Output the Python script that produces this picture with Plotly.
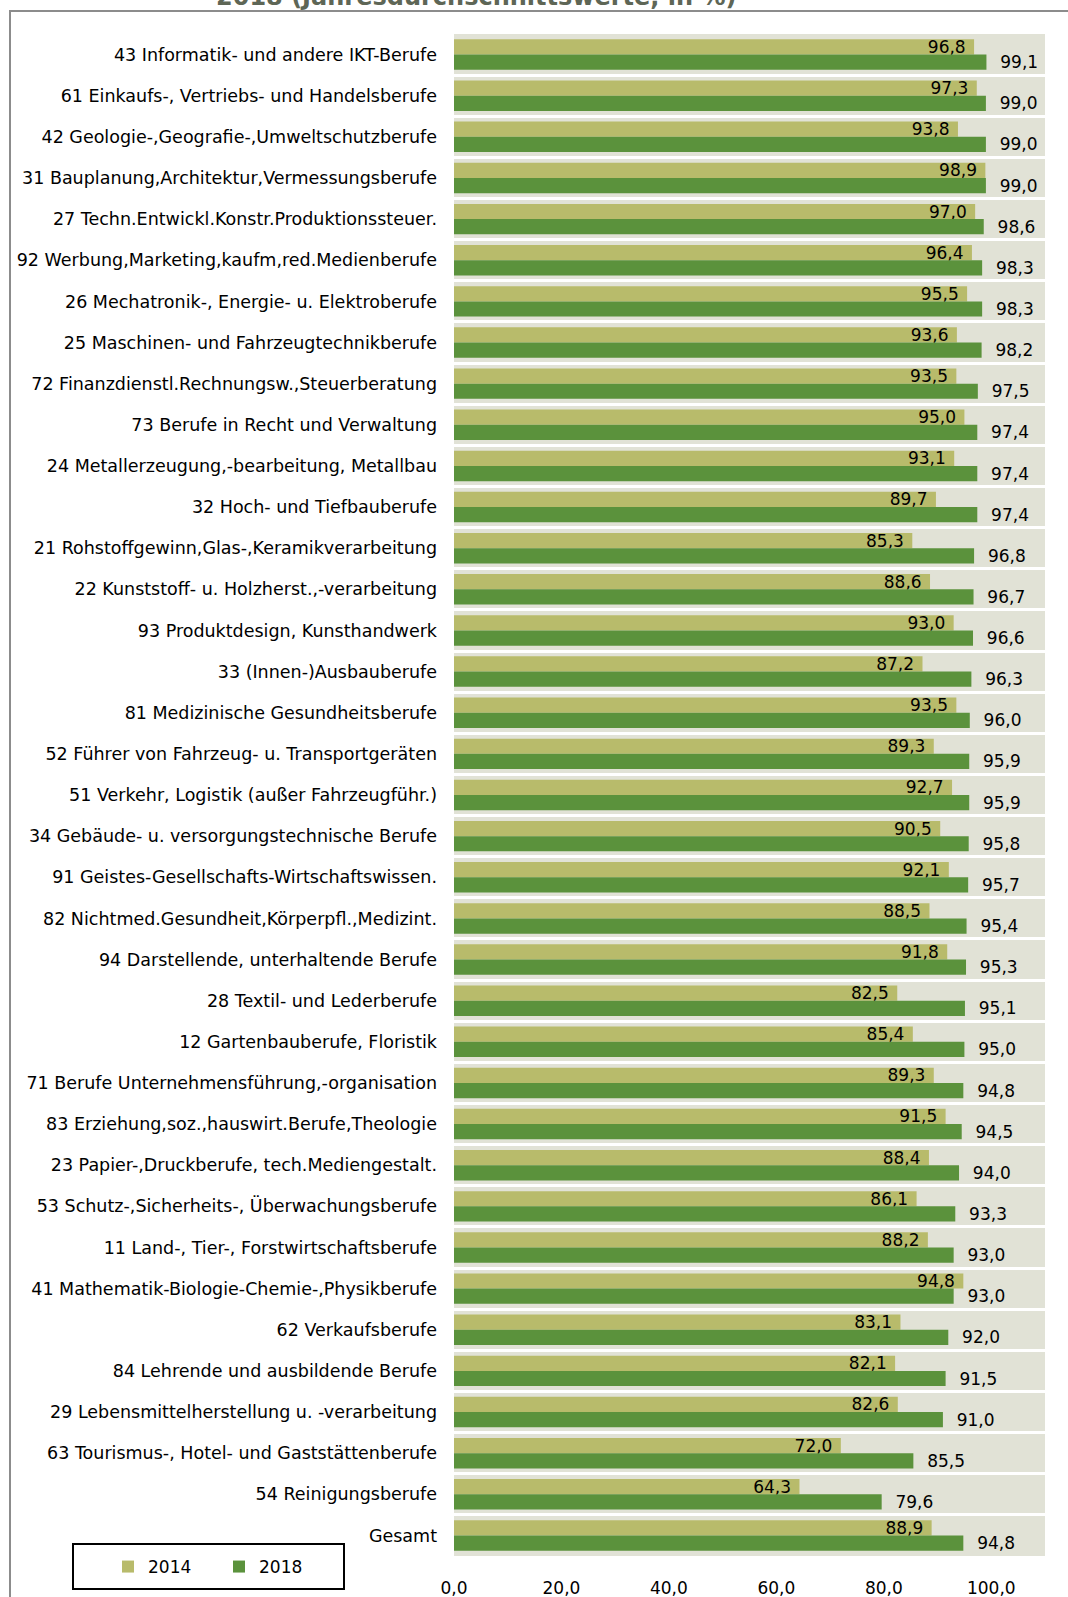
import plotly.graph_objects as go

categories = [
    "43 Informatik- und andere IKT-Berufe",
    "61 Einkaufs-, Vertriebs- und Handelsberufe",
    "42 Geologie-,Geografie-,Umweltschutzberufe",
    "31 Bauplanung,Architektur,Vermessungsberufe",
    "27 Techn.Entwickl.Konstr.Produktionssteuer.",
    "92 Werbung,Marketing,kaufm,red.Medienberufe",
    "26 Mechatronik-, Energie- u. Elektroberufe",
    "25 Maschinen- und Fahrzeugtechnikberufe",
    "72 Finanzdienstl.Rechnungsw.,Steuerberatung",
    "73 Berufe in Recht und Verwaltung",
    "24 Metallerzeugung,-bearbeitung, Metallbau",
    "32 Hoch- und Tiefbauberufe",
    "21 Rohstoffgewinn,Glas-,Keramikverarbeitung",
    "22 Kunststoff- u. Holzherst.,-verarbeitung",
    "93 Produktdesign, Kunsthandwerk",
    "33 (Innen-)Ausbauberufe",
    "81 Medizinische Gesundheitsberufe",
    "52 Führer von Fahrzeug- u. Transportgeräten",
    "51 Verkehr, Logistik (außer Fahrzeugführ.)",
    "34 Gebäude- u. versorgungstechnische Berufe",
    "91 Geistes-Gesellschafts-Wirtschaftswissen.",
    "82 Nichtmed.Gesundheit,Körperpfl.,Medizint.",
    "94 Darstellende, unterhaltende Berufe",
    "28 Textil- und Lederberufe",
    "12 Gartenbauberufe, Floristik",
    "71 Berufe Unternehmensführung,-organisation",
    "83 Erziehung,soz.,hauswirt.Berufe,Theologie",
    "23 Papier-,Druckberufe, tech.Mediengestalt.",
    "53 Schutz-,Sicherheits-, Überwachungsberufe",
    "11 Land-, Tier-, Forstwirtschaftsberufe",
    "41 Mathematik-Biologie-Chemie-,Physikberufe",
    "62 Verkaufsberufe",
    "84 Lehrende und ausbildende Berufe",
    "29 Lebensmittelherstellung u. -verarbeitung",
    "63 Tourismus-, Hotel- und Gaststättenberufe",
    "54 Reinigungsberufe",
    "Gesamt",
]

values_2014 = [96.8, 97.3, 93.8, 98.9, 97.0, 96.4, 95.5, 93.6, 93.5, 95.0,
               93.1, 89.7, 85.3, 88.6, 93.0, 87.2, 93.5, 89.3, 92.7, 90.5,
               92.1, 88.5, 91.8, 82.5, 85.4, 89.3, 91.5, 88.4, 86.1, 88.2,
               94.8, 83.1, 82.1, 82.6, 72.0, 64.3, 88.9]

values_2018 = [99.1, 99.0, 99.0, 99.0, 98.6, 98.3, 98.3, 98.2, 97.5, 97.4,
               97.4, 97.4, 96.8, 96.7, 96.6, 96.3, 96.0, 95.9, 95.9, 95.8,
               95.7, 95.4, 95.3, 95.1, 95.0, 94.8, 94.5, 94.0, 93.3, 93.0,
               93.0, 92.0, 91.5, 91.0, 85.5, 79.6, 94.8]

x_ticks = [0, 20, 40, 60, 80, 100]
title_text = "2018 (Jahresdurchschnittswerte, in %)"

FONT = "DejaVu Sans, sans-serif"
C2014 = "#B8BB6B"
C2018 = "#5B923C"
BAND = "#E1E2D6"
NB = "\u00a0"

fig = go.Figure()
fig.add_trace(go.Bar(
    name="2014", y=categories, x=values_2014, orientation="h",
    marker=dict(color=C2014, line=dict(width=0)),
    texttemplate="%{x:.1f}" + NB, textposition="inside", insidetextanchor="end",
    textfont=dict(color="black", size=17, family=FONT),
    constraintext="none", cliponaxis=False,
))
fig.add_trace(go.Bar(
    name="2018", y=categories, x=values_2018, orientation="h",
    marker=dict(color=C2018, line=dict(width=0)),
    texttemplate=NB + NB + "%{x:.1f}", textposition="outside",
    textfont=dict(color="black", size=17, family=FONT),
    constraintext="none", cliponaxis=False,
))

W, H = 1068, 1597
ml, mr, mt, mb = 454, 23, 34, 41
pw, ph = W - ml - mr, H - mt - mb

def px_x(px):
    return (px - ml) / pw

def px_y(py):
    return (H - mb - py) / ph

fig.update_layout(
    width=W, height=H,
    margin=dict(l=ml, r=mr, t=mt, b=mb, autoexpand=False),
    paper_bgcolor="white", plot_bgcolor=BAND,
    separators=",.",
    barmode="group", bargap=0.26, bargroupgap=0,
    font=dict(family=FONT, size=17, color="black"),
    xaxis=dict(range=[0, 110], tickvals=x_ticks, tickformat=".1f",
               showgrid=False, zeroline=False, showline=False,
               ticklabelstandoff=20, tickfont=dict(size=17)),
    yaxis=dict(categoryorder="array", categoryarray=categories,
               autorange="reversed", tickson="boundaries", ticks="",
               showgrid=True, gridcolor="white", gridwidth=3,
               showline=False, zeroline=False, ticklabelstandoff=16,
               tickfont=dict(size=17.5)),
    showlegend=True,
    legend=dict(orientation="h", x=px_x(108), xanchor="left",
                y=px_y(1567), yanchor="middle", bgcolor="rgba(0,0,0,0)",
                borderwidth=0, entrywidth=66, font=dict(size=17)),
    shapes=[
        dict(type="rect", xref="paper", yref="paper",
             x0=px_x(10), x1=px_x(1080), y0=px_y(1610), y1=px_y(11),
             line=dict(color="#8C8C8C", width=2), fillcolor="rgba(0,0,0,0)",
             layer="below"),
        dict(type="rect", xref="paper", yref="paper",
             x0=px_x(73), x1=px_x(344), y0=px_y(1589), y1=px_y(1544),
             line=dict(color="black", width=2), fillcolor="rgba(0,0,0,0)"),
    ],
    annotations=[
        dict(text="<b>" + title_text + "</b>", xref="paper", yref="paper",
             x=px_x(476), y=px_y(13), xanchor="center", yanchor="bottom",
             showarrow=False, font=dict(size=24, color="#5E6656", family=FONT)),
    ],
)

fig.write_html("out.html", config={"displayModeBar": False},
               post_script="document.body.style.margin='0';document.body.style.padding='0';")
